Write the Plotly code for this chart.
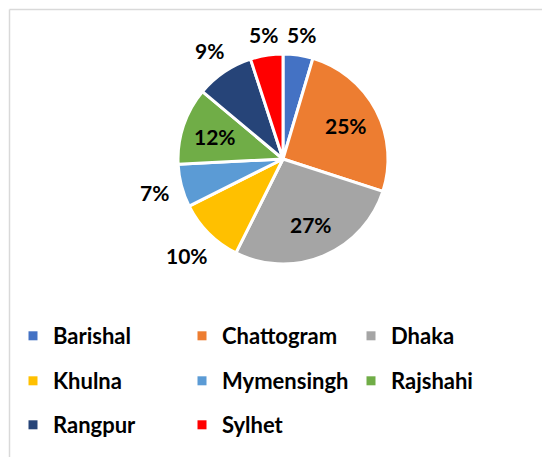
import math
import plotly.graph_objects as go

W, H = 550, 457
# the page body adds an 8px margin around the figure; positions below are
# screen pixels and are converted to paper coordinates with this offset
OFF = 8

divisions = ["Barishal", "Chattogram", "Dhaka", "Khulna", "Mymensingh", "Rajshahi", "Rangpur", "Sylhet"]
shares = [4.6, 25.4, 27.4, 10.2, 6.6, 11.9, 8.9, 5.0]
colors = ["#4472C4", "#ED7D31", "#A5A5A5", "#FFC000", "#5B9BD5", "#70AD47", "#264478", "#FF0000"]
label_inside = [False, True, True, False, False, True, False, False]

FONT = "Lato, 'Open Sans', sans-serif"
LABEL_SIZE = 21
LEGEND_SIZE = 22


def px_x(x):
    return (x - OFF) / W


def px_y(y):
    return 1 - (y - OFF) / H


# pie geometry in screen pixels
cx, cy, r = 283, 159, 105

fig = go.Figure()
fig.add_trace(go.Pie(
    labels=divisions,
    values=shares,
    sort=False,
    direction="clockwise",
    rotation=0,
    marker=dict(colors=colors, line=dict(color="white", width=3)),
    textinfo="none",
    domain=dict(x=[px_x(cx - r), px_x(cx + r)], y=[px_y(cy + r), px_y(cy - r)]),
    hoverinfo="label+percent",
    showlegend=False,
))

# data labels, placed along each slice's mid-angle
total = sum(shares)
annotations = []
cum = 0.0
for name, v, inside in zip(divisions, shares, label_inside):
    mid = (cum + v / 2) / total * 2 * math.pi
    cum += v
    ux, uy = math.sin(mid), -math.cos(mid)
    txt = f"{round(v / total * 100)}%"
    if inside:
        d = 0.68 * r
    else:
        w = len(txt) * 11 + 8
        h = 16
        d = r + 11 + abs(ux) * w / 2 + abs(uy) * h / 2
    px, py = cx + ux * d, cy + uy * d
    annotations.append(dict(
        x=px_x(px), y=px_y(py), xref="paper", yref="paper",
        text=f"<b>{txt}</b>", showarrow=False,
        xanchor="center", yanchor="middle",
        font=dict(family=FONT, size=LABEL_SIZE, color="black"),
    ))

# legend: three rows of three entries
legend_rows = [336, 381, 425]
legend_names = ["legend", "legend2", "legend3"]
for i, (name, c) in enumerate(zip(divisions, colors)):
    fig.add_trace(go.Scatter(
        x=[None], y=[None], mode="markers", name=name,
        marker=dict(symbol="square", size=9, color=c),
        legend=legend_names[i // 3], showlegend=True, hoverinfo="skip",
    ))

legend_common = dict(
    orientation="h", xanchor="left", yanchor="middle",
    entrywidth=124, entrywidthmode="pixels",
    font=dict(family=FONT, size=LEGEND_SIZE, color="black", weight="bold"),
    bgcolor="rgba(0,0,0,0)", traceorder="normal",
)
LEG_X = 5 + OFF

# chart-area border (top and left edges visible in the crop)
BX, BY = 9.5, 9.5

fig.update_layout(
    width=W, height=H,
    margin=dict(l=0, r=0, t=0, b=0),
    paper_bgcolor="white",
    plot_bgcolor="white",
    font=dict(family=FONT, color="black"),
    xaxis=dict(visible=False),
    yaxis=dict(visible=False),
    legend=dict(x=px_x(LEG_X), y=px_y(legend_rows[0]), **legend_common),
    legend2=dict(x=px_x(LEG_X), y=px_y(legend_rows[1]), **legend_common),
    legend3=dict(x=px_x(LEG_X), y=px_y(legend_rows[2]), **legend_common),
    annotations=annotations,
    shapes=[
        dict(type="line", xref="paper", yref="paper", x0=px_x(BX), x1=1.02, y0=px_y(BY), y1=px_y(BY),
             line=dict(color="#D9D9D9", width=1.5)),
        dict(type="line", xref="paper", yref="paper", x0=px_x(BX), x1=px_x(BX), y0=px_y(BY), y1=-0.02,
             line=dict(color="#D9D9D9", width=1.5)),
    ],
)

fig.write_html("out.html")
